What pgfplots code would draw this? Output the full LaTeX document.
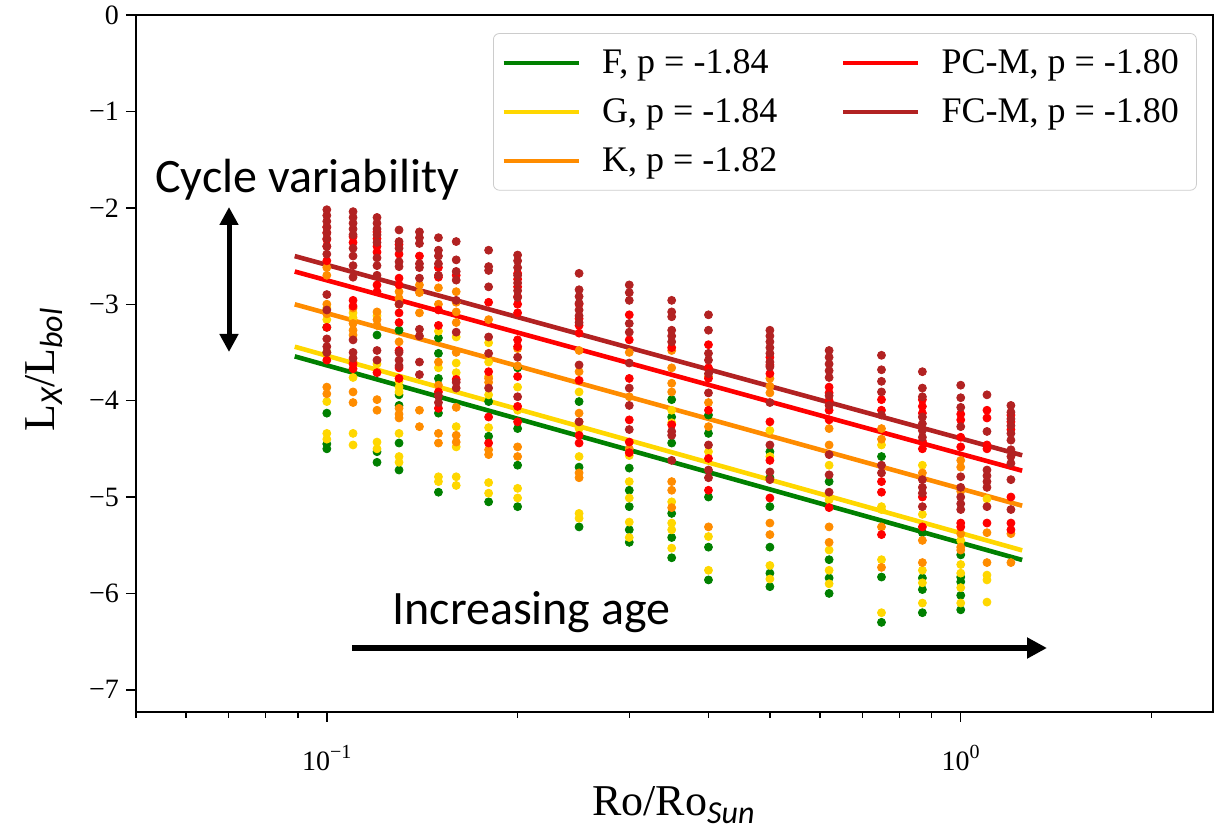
\documentclass[border=0pt]{standalone}
\usepackage{fontspec}
\setmainfont{Liberation Serif}
\newfontfamily\carlito{Carlito}
\usepackage{pgfplots}
\pgfplotsset{compat=1.18}
\usetikzlibrary{arrows.meta}
\definecolor{cF}{HTML}{008000}
\definecolor{cG}{HTML}{FFD700}
\definecolor{cK}{HTML}{FF8C00}
\definecolor{cP}{HTML}{FF0000}
\definecolor{cB}{HTML}{B22222}
\newcommand{\lsub}[1]{\raisebox{-4bp}{\carlito\itshape\fontsize{16bp}{16bp}\selectfont #1}}
\newcommand{\tsup}[1]{\raisebox{6bp}{\fontsize{10bp}{10bp}\selectfont #1}}
\pgfplotsset{pts/.style={only marks, mark=*, mark size=2bp, color=#1, mark options={draw=none, fill=#1}, forget plot}}
\begin{document}
\begin{tikzpicture}
\useasboundingbox (0,0) rectangle (611.5bp,418bp);
\begin{axis}[
  at={(68bp,62bp)}, anchor=south west,
  scale only axis, width=538.5bp, height=348.5bp,
  xmode=log, xmin=0.05, xmax=2.5, ymin=-7.23, ymax=0,
  axis line style={line width=0.8bp},
  tick align=outside, tick pos=left,
  xtick={0.1,1}, xticklabels={10\tsup{−1},10\tsup{0}},
  minor xtick={0.05,0.06,0.07,0.08,0.09,0.2,0.3,0.4,0.5,0.6,0.7,0.8,0.9,2},
  ytick={-7,-6,-5,-4,-3,-2,-1,0}, yticklabels={−7,−6,−5,−4,−3,−2,−1,0},
  major tick length=5bp, minor tick length=2.8bp,
  every tick/.style={black, line width=0.7bp},
  tick label style={font=\fontsize{14bp}{16bp}\selectfont},
  xticklabel style={yshift=-8bp},
  xlabel={Ro/Ro\lsub{Sun}},
  ylabel={L\lsub{X}/L\lsub{bol}},
  label style={font=\fontsize{22bp}{26bp}\selectfont},
  xlabel style={at={(axis description cs:0.499,-0.148)}, anchor=base},
  ylabel style={at={(axis description cs:-0.085,0.491)}, anchor=center},
  legend style={at={(0.985,0.974)}, anchor=north east, draw=black!20, rounded corners=3bp, fill=white,
    font=\fontsize{18bp}{21bp}\selectfont, inner xsep=4bp, inner ysep=6bp, row sep=7bp, column sep=0pt,
    nodes={inner xsep=4.75bp},
    /tikz/every even column/.append style={column sep=27bp}},
  legend columns=2, legend cell align=left,
  legend image code/.code={\draw[#1, line width=2.2bp] (0bp,0bp) -- (37.5bp,0bp); \path[draw=none, fill=none] (0bp,-0.1bp) rectangle (44.5bp,0.1bp);},
]
\addlegendimage{color=cF}\addlegendentry{F, p = -1.84}
\addlegendimage{color=cP}\addlegendentry{PC-M, p = -1.80}
\addlegendimage{color=cG}\addlegendentry{G, p = -1.84}
\addlegendimage{color=cB}\addlegendentry{FC-M, p = -1.80}
\addlegendimage{color=cK}\addlegendentry{K, p = -1.82}

% F (green)
\addplot[pts=cF] table[row sep=\\] {x y\\
0.1 -3.24\\ 0.1 -3.50\\ 0.1 -4.13\\ 0.1 -4.45\\ 0.1 -4.50\\
0.12 -3.32\\ 0.12 -4.53\\ 0.12 -4.64\\
0.13 -3.27\\ 0.13 -3.94\\ 0.13 -4.05\\ 0.13 -4.44\\ 0.13 -4.72\\
0.15 -3.35\\ 0.15 -3.51\\ 0.15 -3.77\\ 0.15 -4.13\\ 0.15 -4.95\\
0.18 -4.01\\ 0.18 -4.37\\ 0.18 -5.05\\
0.2 -3.66\\ 0.2 -4.29\\ 0.2 -4.67\\ 0.2 -5.10\\
0.25 -4.01\\ 0.25 -4.69\\ 0.25 -5.31\\
0.3 -4.70\\ 0.3 -4.93\\ 0.3 -5.10\\ 0.3 -5.34\\ 0.3 -5.47\\
0.35 -3.99\\ 0.35 -4.17\\ 0.35 -4.44\\ 0.35 -5.17\\ 0.35 -5.42\\ 0.35 -5.63\\
0.4 -4.15\\ 0.4 -4.34\\ 0.4 -5.00\\ 0.4 -5.52\\ 0.4 -5.86\\
0.5 -4.53\\ 0.5 -4.80\\ 0.5 -5.10\\ 0.5 -5.52\\ 0.5 -5.79\\ 0.5 -5.93\\
0.62 -4.84\\ 0.62 -5.65\\ 0.62 -5.84\\ 0.62 -6.00\\
0.75 -4.58\\ 0.75 -5.83\\ 0.75 -6.30\\
0.87 -5.37\\ 0.87 -5.84\\ 0.87 -5.96\\ 0.87 -6.20\\
1.0 -5.60\\ 1.0 -5.83\\ 1.0 -5.88\\ 1.0 -6.02\\ 1.0 -6.17\\
};
% G (yellow)
\addplot[pts=cG] table[row sep=\\] {x y\\
0.1 -3.04\\ 0.1 -3.16\\ 0.1 -3.50\\ 0.1 -4.01\\ 0.1 -4.34\\ 0.1 -4.40\\
0.11 -3.09\\ 0.11 -3.14\\ 0.11 -3.76\\ 0.11 -4.34\\ 0.11 -4.46\\
0.12 -3.12\\ 0.12 -3.62\\ 0.12 -4.43\\ 0.12 -4.50\\
0.13 -3.80\\ 0.13 -3.86\\ 0.13 -3.91\\ 0.13 -4.34\\ 0.13 -4.58\\ 0.13 -4.64\\
0.15 -3.28\\ 0.15 -3.66\\ 0.15 -4.79\\ 0.15 -4.84\\
0.16 -3.34\\ 0.16 -3.61\\ 0.16 -3.71\\ 0.16 -4.27\\ 0.16 -4.48\\ 0.16 -4.79\\ 0.16 -4.88\\
0.18 -3.40\\ 0.18 -3.60\\ 0.18 -3.75\\ 0.18 -3.94\\ 0.18 -4.28\\ 0.18 -4.85\\ 0.18 -4.96\\
0.2 -3.86\\ 0.2 -4.10\\ 0.2 -4.91\\ 0.2 -5.01\\
0.25 -3.91\\ 0.25 -4.29\\ 0.25 -4.58\\ 0.25 -5.17\\ 0.25 -5.22\\
0.3 -4.57\\ 0.3 -4.84\\ 0.3 -5.01\\ 0.3 -5.26\\ 0.3 -5.42\\
0.35 -4.10\\ 0.35 -4.23\\ 0.35 -5.05\\ 0.35 -5.27\\ 0.35 -5.34\\ 0.35 -5.53\\
0.4 -4.53\\ 0.4 -5.41\\ 0.4 -5.76\\
0.5 -4.31\\ 0.5 -4.58\\ 0.5 -5.71\\ 0.5 -5.85\\
0.62 -4.67\\ 0.62 -5.03\\ 0.62 -5.55\\ 0.62 -5.76\\ 0.62 -5.90\\
0.75 -4.46\\ 0.75 -5.10\\ 0.75 -5.13\\ 0.75 -5.65\\ 0.75 -6.20\\
0.87 -4.67\\ 0.87 -5.18\\ 0.87 -5.76\\ 0.87 -5.89\\ 0.87 -6.10\\
1.0 -5.45\\ 1.0 -5.70\\ 1.0 -5.79\\ 1.0 -5.94\\ 1.0 -6.10\\
1.1 -5.02\\ 1.1 -5.81\\ 1.1 -5.86\\ 1.1 -6.09\\
};
% K (orange)
\addplot[pts=cK] table[row sep=\\] {x y\\
0.1 -2.62\\ 0.1 -2.70\\ 0.1 -3.00\\ 0.1 -3.10\\ 0.1 -3.86\\ 0.1 -3.93\\
0.11 -3.04\\ 0.11 -3.20\\ 0.11 -3.27\\ 0.11 -3.32\\ 0.11 -3.60\\ 0.11 -3.91\\ 0.11 -4.02\\
0.12 -3.08\\ 0.12 -3.16\\ 0.12 -3.22\\ 0.12 -3.99\\ 0.12 -4.10\\
0.13 -2.87\\ 0.13 -2.94\\ 0.13 -3.00\\ 0.13 -3.39\\ 0.13 -4.08\\ 0.13 -4.14\\ 0.13 -4.18\\
0.14 -2.80\\ 0.14 -2.88\\ 0.14 -3.09\\ 0.14 -4.10\\ 0.14 -4.27\\
0.15 -2.83\\ 0.15 -3.00\\ 0.15 -3.60\\ 0.15 -3.84\\ 0.15 -4.34\\ 0.15 -4.44\\
0.16 -2.87\\ 0.16 -2.98\\ 0.16 -3.08\\ 0.16 -3.19\\ 0.16 -3.50\\ 0.16 -4.07\\ 0.16 -4.36\\ 0.16 -4.43\\
0.18 -3.16\\ 0.18 -3.77\\ 0.18 -3.81\\ 0.18 -4.51\\ 0.18 -4.56\\
0.2 -3.46\\ 0.2 -3.64\\ 0.2 -4.48\\ 0.2 -4.58\\
0.25 -3.48\\ 0.25 -3.70\\ 0.25 -4.13\\ 0.25 -4.22\\ 0.25 -4.75\\ 0.25 -4.80\\
0.3 -3.50\\ 0.3 -3.96\\ 0.3 -4.50\\
0.35 -3.48\\ 0.35 -3.66\\ 0.35 -3.82\\ 0.35 -3.91\\ 0.35 -4.84\\ 0.35 -4.93\\ 0.35 -5.11\\
0.4 -3.75\\ 0.4 -4.02\\ 0.4 -4.27\\ 0.4 -5.31\\
0.5 -3.77\\ 0.5 -3.85\\ 0.5 -3.92\\ 0.5 -5.27\\ 0.5 -5.39\\
0.62 -4.29\\ 0.62 -4.46\\ 0.62 -5.31\\ 0.62 -5.47\\
0.75 -4.29\\ 0.75 -4.40\\ 0.75 -5.31\\ 0.75 -5.73\\
0.87 -4.75\\ 0.87 -5.45\\ 0.87 -5.68\\
1.0 -4.62\\ 1.0 -4.69\\ 1.0 -4.94\\ 1.0 -5.38\\ 1.0 -5.52\\ 1.0 -5.55\\
1.1 -5.37\\ 1.1 -5.68\\
1.2 -5.38\\ 1.2 -5.68\\
};
% PC-M (red)
\addplot[pts=cP] table[row sep=\\] {x y\\
0.1 -2.20\\ 0.1 -2.26\\ 0.1 -2.33\\ 0.1 -2.40\\ 0.1 -2.55\\ 0.1 -3.24\\ 0.1 -3.58\\
0.11 -2.30\\ 0.11 -2.36\\ 0.11 -2.96\\ 0.11 -3.02\\ 0.11 -3.62\\ 0.11 -3.67\\
0.12 -2.25\\ 0.12 -2.32\\ 0.12 -2.40\\ 0.12 -2.46\\ 0.12 -2.80\\ 0.12 -2.87\\ 0.12 -3.71\\
0.13 -2.38\\ 0.13 -2.48\\ 0.13 -2.73\\ 0.13 -2.80\\ 0.13 -3.09\\ 0.13 -3.19\\ 0.13 -3.48\\ 0.13 -3.66\\ 0.13 -3.77\\
0.14 -2.50\\
0.15 -2.62\\ 0.15 -2.72\\ 0.15 -3.06\\ 0.15 -3.22\\ 0.15 -3.91\\ 0.15 -4.08\\
0.16 -2.70\\ 0.16 -3.78\\
0.18 -2.98\\ 0.18 -3.70\\ 0.18 -4.17\\ 0.18 -4.44\\
0.2 -2.68\\ 0.2 -2.74\\ 0.2 -2.82\\ 0.2 -2.92\\ 0.2 -3.00\\ 0.2 -3.09\\ 0.2 -3.37\\ 0.2 -3.44\\ 0.2 -3.75\\ 0.2 -4.06\\ 0.2 -4.22\\
0.25 -3.00\\ 0.25 -3.15\\ 0.25 -3.22\\ 0.25 -3.30\\ 0.25 -3.79\\ 0.25 -4.36\\ 0.25 -4.44\\
0.3 -3.11\\ 0.3 -3.37\\ 0.3 -3.77\\ 0.3 -4.20\\ 0.3 -4.43\\ 0.3 -4.54\\
0.35 -3.45\\ 0.35 -4.25\\
0.4 -3.42\\ 0.4 -3.66\\ 0.4 -3.77\\ 0.4 -4.10\\ 0.4 -4.60\\ 0.4 -4.93\\
0.5 -3.55\\ 0.5 -3.63\\ 0.5 -3.72\\ 0.5 -4.22\\ 0.5 -4.62\\ 0.5 -5.01\\
0.62 -3.86\\ 0.62 -3.92\\ 0.62 -4.00\\ 0.62 -4.10\\ 0.62 -4.20\\ 0.62 -5.11\\
0.75 -3.99\\ 0.75 -4.10\\ 0.75 -4.84\\ 0.75 -4.95\\ 0.75 -5.39\\
0.87 -3.99\\ 0.87 -4.06\\ 0.87 -4.13\\ 0.87 -4.42\\ 0.87 -4.50\\ 0.87 -5.00\\ 0.87 -5.31\\
1.0 -4.14\\ 1.0 -4.20\\ 1.0 -4.38\\ 1.0 -4.48\\ 1.0 -5.27\\ 1.0 -5.31\\
1.1 -4.10\\ 1.1 -4.18\\ 1.1 -4.46\\ 1.1 -4.50\\ 1.1 -5.27\\
1.2 -4.15\\ 1.2 -4.22\\ 1.2 -4.30\\ 1.2 -5.00\\ 1.2 -5.27\\ 1.2 -5.34\\
};
% FC-M (brown)
\addplot[pts=cB] table[row sep=\\] {x y\\
0.1 -2.02\\ 0.1 -2.08\\ 0.1 -2.14\\ 0.1 -2.20\\ 0.1 -2.26\\ 0.1 -2.32\\ 0.1 -2.40\\ 0.1 -2.48\\ 0.1 -2.90\\ 0.1 -3.06\\ 0.1 -3.36\\ 0.1 -3.44\\ 0.1 -3.50\\
0.11 -2.04\\ 0.11 -2.10\\ 0.11 -2.16\\ 0.11 -2.22\\ 0.11 -2.28\\ 0.11 -2.42\\ 0.11 -2.50\\ 0.11 -2.60\\ 0.11 -2.72\\ 0.11 -3.37\\ 0.11 -3.50\\ 0.11 -3.56\\
0.12 -2.10\\ 0.12 -2.16\\ 0.12 -2.22\\ 0.12 -2.28\\ 0.12 -2.36\\ 0.12 -2.52\\ 0.12 -2.60\\ 0.12 -2.70\\ 0.12 -3.48\\ 0.12 -3.58\\
0.13 -2.23\\ 0.13 -2.35\\ 0.13 -2.42\\ 0.13 -2.56\\ 0.13 -2.61\\ 0.13 -3.00\\ 0.13 -3.50\\ 0.13 -3.58\\ 0.13 -3.64\\
0.14 -2.25\\ 0.14 -2.31\\ 0.14 -2.37\\ 0.14 -2.58\\ 0.14 -2.62\\ 0.14 -2.73\\ 0.14 -3.26\\ 0.14 -3.33\\ 0.14 -3.60\\ 0.14 -3.73\\
0.15 -2.31\\ 0.15 -2.44\\ 0.15 -2.50\\ 0.15 -2.58\\ 0.15 -2.70\\ 0.15 -3.95\\ 0.15 -4.02\\
0.16 -2.35\\ 0.16 -2.54\\ 0.16 -2.66\\ 0.16 -2.75\\ 0.16 -2.96\\ 0.16 -3.29\\ 0.16 -3.81\\ 0.16 -3.87\\
0.18 -2.44\\ 0.18 -2.61\\ 0.18 -2.65\\ 0.18 -2.82\\ 0.18 -3.34\\ 0.18 -3.51\\ 0.18 -3.87\\
0.2 -2.49\\ 0.2 -2.55\\ 0.2 -2.62\\ 0.2 -2.70\\ 0.2 -2.78\\ 0.2 -2.86\\ 0.2 -2.93\\ 0.2 -3.55\\ 0.2 -3.96\\
0.25 -2.68\\ 0.25 -2.85\\ 0.25 -2.92\\ 0.25 -2.99\\ 0.25 -3.06\\ 0.25 -3.12\\ 0.25 -3.19\\ 0.25 -3.63\\ 0.25 -4.22\\
0.3 -2.80\\ 0.3 -2.88\\ 0.3 -2.96\\ 0.3 -3.20\\ 0.3 -3.29\\ 0.3 -3.61\\ 0.3 -3.87\\ 0.3 -4.05\\ 0.3 -4.30\\
0.35 -2.96\\ 0.35 -3.08\\ 0.35 -3.13\\ 0.35 -3.27\\ 0.35 -3.33\\ 0.35 -3.39\\ 0.35 -4.32\\ 0.35 -4.36\\ 0.35 -4.62\\
0.4 -3.11\\ 0.4 -3.27\\ 0.4 -3.51\\ 0.4 -3.58\\ 0.4 -3.72\\ 0.4 -3.92\\ 0.4 -4.46\\ 0.4 -4.72\\ 0.4 -4.80\\
0.5 -3.27\\ 0.5 -3.33\\ 0.5 -3.39\\ 0.5 -3.45\\ 0.5 -3.51\\ 0.5 -3.60\\ 0.5 -3.65\\ 0.5 -4.02\\ 0.5 -4.46\\ 0.5 -4.74\\ 0.5 -4.82\\
0.62 -3.48\\ 0.62 -3.55\\ 0.62 -3.62\\ 0.62 -3.69\\ 0.62 -3.76\\ 0.62 -3.95\\ 0.62 -4.05\\ 0.62 -4.56\\ 0.62 -4.77\\ 0.62 -4.95\\
0.75 -3.53\\ 0.75 -3.68\\ 0.75 -3.80\\ 0.75 -3.91\\ 0.75 -4.15\\ 0.75 -4.67\\ 0.75 -4.75\\
0.87 -3.70\\ 0.87 -3.87\\ 0.87 -3.96\\ 0.87 -4.17\\ 0.87 -4.24\\ 0.87 -4.31\\ 0.87 -4.38\\ 0.87 -4.82\\ 0.87 -4.90\\ 0.87 -4.96\\ 0.87 -5.10\\
1.0 -3.84\\ 1.0 -3.97\\ 1.0 -4.07\\ 1.0 -4.27\\ 1.0 -4.79\\ 1.0 -4.90\\ 1.0 -5.00\\ 1.0 -5.07\\ 1.0 -5.13\\
1.1 -3.94\\ 1.1 -4.32\\ 1.1 -4.72\\ 1.1 -4.78\\ 1.1 -4.84\\ 1.1 -4.90\\ 1.1 -5.10\\
1.2 -4.05\\ 1.2 -4.12\\ 1.2 -4.19\\ 1.2 -4.26\\ 1.2 -4.34\\ 1.2 -4.41\\ 1.2 -4.51\\ 1.2 -4.58\\ 1.2 -4.65\\ 1.2 -4.82\\ 1.2 -5.13\\
};
% fitted lines
\addplot[cF, line width=2.3bp, forget plot] coordinates {(0.089,-3.541) (1.25,-5.653)};
\addplot[cG, line width=2.3bp, forget plot] coordinates {(0.089,-3.441) (1.25,-5.553)};
\addplot[cK, line width=2.3bp, forget plot] coordinates {(0.089,-3.001) (1.25,-5.090)};
\addplot[cP, line width=2.3bp, forget plot] coordinates {(0.089,-2.661) (1.25,-4.727)};
\addplot[cB, line width=2.3bp, forget plot] coordinates {(0.089,-2.501) (1.25,-4.567)};
\end{axis}
\node[anchor=base west, inner sep=0pt, font=\carlito\fontsize{24bp}{28bp}\selectfont] at (77.5bp,321.5bp) {Cycle variability};
\draw[line width=2.5bp, {Triangle[length=9bp,width=9bp]}-{Triangle[length=9bp,width=9bp]}] (114.5bp,314.5bp) -- (114.5bp,242bp);
\node[anchor=base west, inner sep=0pt, font=\carlito\fontsize{24bp}{28bp}\selectfont] at (196bp,105.5bp) {Increasing age};
\draw[line width=3bp, -{Triangle[length=10bp,width=10bp]}] (176bp,94bp) -- (523.5bp,94bp);
\end{tikzpicture}
\end{document}
